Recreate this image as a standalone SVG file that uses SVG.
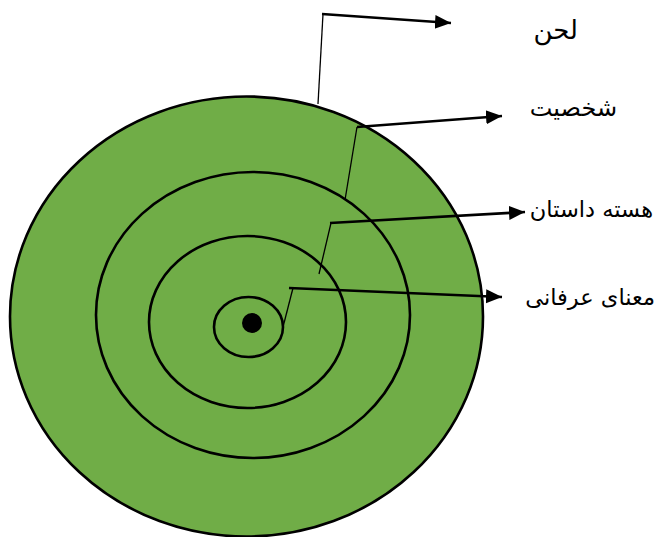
<svg xmlns="http://www.w3.org/2000/svg" width="656" height="537" viewBox="0 0 656 537">
<style>
.ring{fill:none;stroke:#000;stroke-width:2.6}
.lead{fill:none;stroke:#000;stroke-width:2.6}
.thin{fill:none;stroke:#000;stroke-width:1.3}
.lbl{font-family:"DejaVu Sans","Noto Sans",sans-serif;font-size:24px;fill:#000;text-anchor:end}
.lbl.long{font-size:22.5px}
</style>
<defs>
<marker id="ah" markerUnits="userSpaceOnUse" markerWidth="16" markerHeight="16" viewBox="0 0 16 16" refX="16" refY="8" orient="auto">
<path d="M0,1 L16,8 L0,15 Z" fill="#000"/>
</marker>
</defs>
<rect width="656" height="537" fill="#fff"/>
<g id="rings">
<ellipse cx="246.5" cy="316.5" rx="236.5" ry="220" fill="#70AD47" stroke="#000" stroke-width="2.6"/>
<ellipse class="ring" cx="253" cy="315" rx="157" ry="143"/>
<ellipse class="ring" cx="247.5" cy="322" rx="98.5" ry="86"/>
<ellipse class="ring" cx="248.5" cy="327" rx="34.5" ry="30"/>
<circle cx="252" cy="323" r="10" fill="#000"/>
</g>
<g id="connectors">
<polyline class="thin" points="318,104 323,14"/>
<line class="lead" x1="322" y1="14" x2="451" y2="23" marker-end="url(#ah)"/>
<line class="lead" x1="357" y1="127" x2="502" y2="116" marker-end="url(#ah)"/>
<line class="thin" x1="357" y1="127" x2="345" y2="200"/>
<line class="lead" x1="330" y1="223" x2="525" y2="212" marker-end="url(#ah)"/>
<line class="thin" x1="331" y1="223" x2="319" y2="274"/>
<line class="lead" x1="289" y1="288" x2="502" y2="297" marker-end="url(#ah)"/>
<line class="thin" x1="293" y1="288" x2="283" y2="327"/>
</g>
<g id="label-lahn"><text class="lbl" x="578" y="39" style="font-size:26px">لحن</text></g>
<g id="label-shakhsiyat"><text class="lbl" x="617" y="116">شخصیت</text></g>
<g id="label-hasteh"><text class="lbl long" x="653" y="217">هسته داستان</text></g>
<g id="label-mana"><text class="lbl long" x="655" y="305">معنای عرفانی</text></g>
</svg>
